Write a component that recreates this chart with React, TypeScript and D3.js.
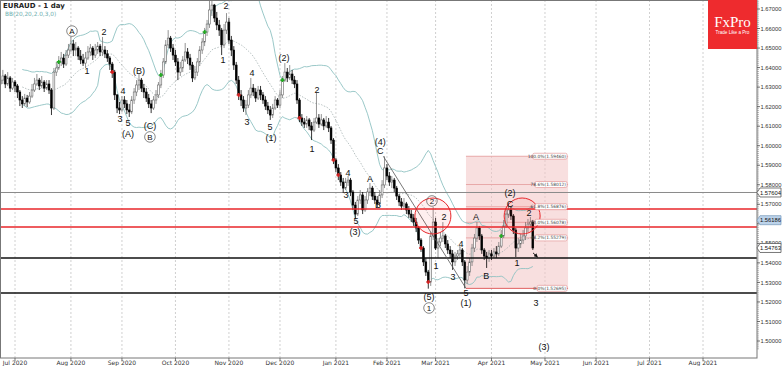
import React from "react";
import * as d3 from "d3";

// ---- DATA (EURAUD daily) ----
const firstDate = new Date(2020, 5, 23);
const axisEnd = new Date(2021, 7, 31);
const firstOpen = 1.6316;

const closes = [
  1.6336, 1.6357, 1.6316, 1.6347, 1.6295, 1.6326, 1.6306, 1.6275, 1.6234, 1.6214,
  1.6244, 1.6224, 1.6254, 1.6285, 1.6316, 1.6336, 1.6306, 1.6326, 1.6295, 1.6316,
  1.6285, 1.6193, 1.6377, 1.6398, 1.6429, 1.6449, 1.6418, 1.6464, 1.6490, 1.6521,
  1.6490, 1.6500, 1.6459, 1.6439, 1.6423, 1.6449, 1.6480, 1.6500, 1.6464, 1.6490,
  1.6510, 1.6480, 1.6490, 1.6470, 1.6449, 1.6418, 1.6377, 1.6260, 1.6193, 1.6183,
  1.6234, 1.6214, 1.6183, 1.6173, 1.6234, 1.6275, 1.6311, 1.6336, 1.6295, 1.6275,
  1.6244, 1.6214, 1.6193, 1.6234, 1.6260, 1.6311, 1.6362, 1.6429, 1.6516, 1.6551,
  1.6500, 1.6464, 1.6429, 1.6377, 1.6398, 1.6439, 1.6480, 1.6449, 1.6413, 1.6347,
  1.6377, 1.6429, 1.6490, 1.6531, 1.6582, 1.6623, 1.6695, 1.6720, 1.6654, 1.6618,
  1.6592, 1.6516, 1.6592, 1.6633, 1.6541, 1.6490, 1.6413, 1.6336, 1.6260, 1.6234,
  1.6193, 1.6208, 1.6260, 1.6295, 1.6275, 1.6244, 1.6285, 1.6260, 1.6234, 1.6203,
  1.6183, 1.6157, 1.6193, 1.6234, 1.6208, 1.6260, 1.6336, 1.6377, 1.6347, 1.6367,
  1.6336, 1.6316, 1.6234, 1.6142, 1.6121, 1.6111, 1.6132, 1.6101, 1.6080, 1.6121,
  1.6142, 1.6111, 1.6132, 1.6101, 1.6121, 1.6091, 1.6029, 1.5927, 1.5886, 1.5850,
  1.5814, 1.5783, 1.5814, 1.5824, 1.5763, 1.5696, 1.5650, 1.5722, 1.5748, 1.5671,
  1.5722, 1.5763, 1.5783, 1.5742, 1.5722, 1.5702, 1.5748, 1.5799, 1.5886, 1.5845,
  1.5814, 1.5824, 1.5783, 1.5742, 1.5712, 1.5691, 1.5702, 1.5671, 1.5650, 1.5630,
  1.5609, 1.5579, 1.5517, 1.5476, 1.5405, 1.5353, 1.5302, 1.5538, 1.5609, 1.5476,
  1.5507, 1.5527, 1.5538, 1.5497, 1.5466, 1.5446, 1.5405, 1.5435, 1.5446, 1.5466,
  1.5405, 1.5312, 1.5353, 1.5405, 1.5476, 1.5527, 1.5579, 1.5538, 1.5466, 1.5435,
  1.5425, 1.5446, 1.5435, 1.5456, 1.5446, 1.5486, 1.5538, 1.5589, 1.5650, 1.5671,
  1.5640, 1.5568, 1.5476, 1.5497, 1.5517, 1.5538, 1.5579, 1.5599, 1.5609, 1.54763,
];

const highs = [
  1.6377, 1.6388, 1.6367, 1.6377, 1.6357, 1.6347, 1.6336, 1.6316, 1.6285, 1.6254,
  1.6265, 1.6260, 1.6275, 1.6316, 1.6347, 1.6367, 1.6347, 1.6357, 1.6336, 1.6336,
  1.6336, 1.6295, 1.6398, 1.6429, 1.6459, 1.6480, 1.6470, 1.6490, 1.6521, 1.6557,
  1.6541, 1.6531, 1.6510, 1.6490, 1.6470, 1.6480, 1.6510, 1.6521, 1.6510, 1.6521,
  1.6531, 1.6521, 1.6557, 1.6510, 1.6490, 1.6459, 1.6429, 1.6388, 1.6265, 1.6224,
  1.6254, 1.6254, 1.6234, 1.6214, 1.6254, 1.6295, 1.6336, 1.6367, 1.6347, 1.6316,
  1.6295, 1.6265, 1.6234, 1.6254, 1.6285, 1.6326, 1.6388, 1.6449, 1.6541, 1.6592,
  1.6562, 1.6521, 1.6490, 1.6449, 1.6429, 1.6459, 1.6526, 1.6500, 1.6470, 1.6429,
  1.6408, 1.6449, 1.6510, 1.6551, 1.6603, 1.6644, 1.6772, 1.6787, 1.6726, 1.6685,
  1.6644, 1.6603, 1.6623, 1.6679, 1.6654, 1.6562, 1.6510, 1.6429, 1.6357, 1.6285,
  1.6254, 1.6234, 1.6285, 1.6347, 1.6316, 1.6295, 1.6306, 1.6306, 1.6275, 1.6254,
  1.6224, 1.6203, 1.6214, 1.6254, 1.6244, 1.6285, 1.6357, 1.6423, 1.6398, 1.6413,
  1.6388, 1.6357, 1.6336, 1.6244, 1.6162, 1.6142, 1.6152, 1.6142, 1.6121, 1.6142,
  1.6270, 1.6162, 1.6162, 1.6142, 1.6152, 1.6142, 1.6101, 1.6039, 1.5937, 1.5906,
  1.5865, 1.5835, 1.5835, 1.5845, 1.5835, 1.5773, 1.5712, 1.5742, 1.5773, 1.5763,
  1.5742, 1.5783, 1.5809, 1.5794, 1.5763, 1.5742, 1.5773, 1.5824, 1.5946, 1.5906,
  1.5865, 1.5845, 1.5835, 1.5794, 1.5753, 1.5732, 1.5732, 1.5712, 1.5691, 1.5671,
  1.5650, 1.5630, 1.5589, 1.5527, 1.5486, 1.5425, 1.5364, 1.5558, 1.5686, 1.5630,
  1.5527, 1.5558, 1.5609, 1.5548, 1.5517, 1.5486, 1.5466, 1.5456, 1.5466, 1.5486,
  1.5476, 1.5415, 1.5384, 1.5425, 1.5497, 1.5548, 1.5609, 1.5589, 1.5548, 1.5476,
  1.5456, 1.5466, 1.5466, 1.5476, 1.5486, 1.5507, 1.5568, 1.5620, 1.5681, 1.5707,
  1.5691, 1.5650, 1.5579, 1.5527, 1.5548, 1.5568, 1.5609, 1.5625, 1.5635, 1.5620,
];

const lows = [
  1.6306, 1.6316, 1.6295, 1.6306, 1.6275, 1.6285, 1.6275, 1.6244, 1.6203, 1.6193,
  1.6203, 1.6198, 1.6214, 1.6244, 1.6275, 1.6306, 1.6285, 1.6295, 1.6275, 1.6285,
  1.6265, 1.6157, 1.6183, 1.6357, 1.6388, 1.6408, 1.6398, 1.6408, 1.6449, 1.6480,
  1.6459, 1.6459, 1.6439, 1.6418, 1.6408, 1.6398, 1.6439, 1.6459, 1.6439, 1.6449,
  1.6470, 1.6459, 1.6459, 1.6449, 1.6429, 1.6388, 1.6347, 1.6234, 1.6167, 1.6162,
  1.6173, 1.6193, 1.6162, 1.6147, 1.6162, 1.6214, 1.6254, 1.6285, 1.6275, 1.6244,
  1.6224, 1.6193, 1.6167, 1.6183, 1.6214, 1.6244, 1.6295, 1.6347, 1.6418, 1.6500,
  1.6480, 1.6439, 1.6408, 1.6336, 1.6357, 1.6377, 1.6429, 1.6418, 1.6388, 1.6326,
  1.6336, 1.6357, 1.6408, 1.6470, 1.6510, 1.6562, 1.6603, 1.6664, 1.6633, 1.6592,
  1.6562, 1.6464, 1.6500, 1.6572, 1.6521, 1.6459, 1.6388, 1.6316, 1.6234, 1.6203,
  1.6173, 1.6157, 1.6193, 1.6244, 1.6254, 1.6224, 1.6234, 1.6234, 1.6214, 1.6183,
  1.6162, 1.6132, 1.6142, 1.6183, 1.6193, 1.6193, 1.6244, 1.6326, 1.6326, 1.6336,
  1.6316, 1.6295, 1.6214, 1.6121, 1.6101, 1.6091, 1.6091, 1.6080, 1.6029, 1.6070,
  1.6111, 1.6091, 1.6101, 1.6080, 1.6091, 1.6070, 1.6009, 1.5906, 1.5865, 1.5824,
  1.5794, 1.5758, 1.5773, 1.5794, 1.5742, 1.5671, 1.5625, 1.5640, 1.5702, 1.5650,
  1.5661, 1.5702, 1.5742, 1.5722, 1.5702, 1.5686, 1.5691, 1.5732, 1.5783, 1.5824,
  1.5794, 1.5783, 1.5763, 1.5722, 1.5691, 1.5671, 1.5671, 1.5650, 1.5630, 1.5609,
  1.5589, 1.5558, 1.5497, 1.5456, 1.5384, 1.5333, 1.5268, 1.5282, 1.5517, 1.5466,
  1.5425, 1.5486, 1.5507, 1.5476, 1.5446, 1.5425, 1.5364, 1.5384, 1.5415, 1.5425,
  1.5384, 1.52695, 1.5292, 1.5333, 1.5384, 1.5456, 1.5507, 1.5517, 1.5446, 1.5415,
  1.5374, 1.5405, 1.5415, 1.5425, 1.5425, 1.5435, 1.5476, 1.5527, 1.5579, 1.5630,
  1.5620, 1.5548, 1.5430, 1.5456, 1.5476, 1.5497, 1.5517, 1.5558, 1.5579, 1.5466,
];

// price ticks
const priceTicks = [1.5, 1.51, 1.52, 1.53, 1.54, 1.55, 1.56, 1.57, 1.58, 1.59, 1.6, 1.61, 1.62, 1.63, 1.64, 1.65, 1.66, 1.67];

// horizontal levels
const greyLevel = 1.57604;
const redLevels = [1.5676, 1.5584];
const blackLevels = [1.5425, 1.5246];
const askPrice = 1.56186;

// fractal markers (bar indices)
const greenMarks = [24, 66, 84, 116, 206];
const redMarks = [46, 98, 123, 137, 139, 173, 176];

// fibonacci box
const fibStart = 191.5;
const fibEnd = 233.5;
const fibHigh = 1.5946;
const fibLow = 1.52695;
const fibRatios = [1.0, 0.786, 0.618, 0.5, 0.382, 0.0];

// trendline [bar, price]
const trendFrom: [number, number] = [157.5, 1.5946];
const trendTo: [number, number] = [191.5, 1.52695];
const arrowFrom: [number, number] = [219.1, 1.5451];
const arrowTo: [number, number] = [220.9, 1.5430];

// red circles [bar, price]
const circles: [number, number][] = [[177.9, 1.564], [214.6, 1.564]];

// Elliott wave labels [text, bar, price, circled]
const waveLabels: [string, number, number, boolean][] = [
  ["A", 29.45, 1.6587, true], ["2", 42.6, 1.6582, false], ["1", 35.6, 1.6382, false],
  ["(B)", 57.0, 1.6382, false], ["4", 50.4, 1.628, false], ["3", 49.2, 1.6137, false],
  ["5", 52.5, 1.6116, false], ["(A)", 52.5, 1.606, false], ["(C)", 61.5, 1.6101, false],
  ["B", 61.5, 1.6045, true], ["2", 92.8, 1.6715, false], ["1", 91.6, 1.6439, false],
  ["4", 103.5, 1.6372, false], ["3", 101.4, 1.6121, false], ["5", 110.9, 1.6096, false],
  ["(1)", 111.3, 1.6039, false], ["(2)", 116.7, 1.6449, false], ["2", 130.2, 1.6285, false],
  ["1", 128.2, 1.5983, false], ["(4)", 156.2, 1.6019, false], ["C", 156.2, 1.5973, false],
  ["4", 143.0, 1.586, false], ["A", 152.0, 1.583, false], ["3", 142.2, 1.5748, false],
  ["B", 155.3, 1.5696, false], ["5", 146.3, 1.5614, false], ["(3)", 145.9, 1.5558, false],
  ["2", 177.5, 1.5717, true], ["2", 182.5, 1.5635, false], ["A", 195.6, 1.5635, false],
  ["4", 189.5, 1.5497, false], ["1", 179.2, 1.5384, false], ["3", 186.2, 1.5328, false],
  ["B", 199.8, 1.5333, false], ["(5)", 176.3, 1.5225, false], ["1", 176.3, 1.5169, true],
  ["5", 191.5, 1.5246, false], ["(1)", 191.5, 1.5195, false], ["(2)", 209.6, 1.5758, false],
  ["C", 209.6, 1.5702, false], ["1", 212.5, 1.54, false], ["2", 217.4, 1.5656, false],
  ["3", 220.3, 1.5195, false], ["(3)", 223.6, 1.4969, false],
];

// ---- helpers ----
const dates: Date[] = [];
for (let d = new Date(firstDate); d <= axisEnd; d = d3.timeDay.offset(d, 1)) {
  const wd = d.getDay();
  if (wd !== 0 && wd !== 6) dates.push(new Date(d));
}
const idxOf = (dt: Date) => dates.findIndex((d) => d >= dt);
const monthStarts: number[] = [];
dates.forEach((d, i) => {
  if (i > 0 && d.getMonth() !== dates[i - 1].getMonth()) monthStarts.push(i);
});
const fmtMonth = d3.timeFormat("%b %Y");

const W = 782, H = 366;
const plotR = 757, plotB = 358;
const xs = d3.scaleLinear()
  .domain([idxOf(new Date(2020, 6, 1)), idxOf(new Date(2021, 7, 2))])
  .range([15, 703]);
const ys = d3.scaleLinear().domain([1.5, 1.67]).range([341, 9]);

const opens = closes.map((c, i) => (i === 0 ? firstOpen : closes[i - 1]));
const lastClose = closes[closes.length - 1];
const tagPrices = [greyLevel, askPrice, lastClose];

// Bollinger bands 20, 2
const bb = closes.map((_, i) => {
  const w = closes.slice(Math.max(0, i - 19), i + 1);
  const m = d3.mean(w)!;
  const sd = Math.sqrt(d3.mean(w.map((v) => (v - m) * (v - m)))!);
  return { i, m, u: m + 2 * sd, l: m - 2 * sd, n: w.length };
}).filter((b) => b.n >= 10);

const line = (acc: (b: any) => number) =>
  d3.line<any>().x((b) => xs(b.i)).y((b) => ys(acc(b)))(bb) || "";

const font = "'Liberation Sans', Arial, sans-serif";
const axisFont = "'DejaVu Sans', Tahoma, sans-serif";

function Tag({ p, fill, stroke }: { p: number; fill: string; stroke: string }) {
  const y = ys(p);
  const pts = `${plotR},${y} ${plotR + 3},${y - 4.5} ${W - 1},${y - 4.5} ${W - 1},${y + 4.5} ${plotR + 3},${y + 4.5}`;
  return (
    <g>
      <polygon points={pts} fill={fill} stroke={stroke} strokeWidth={0.8} />
      <text x={plotR + 3} y={y + 2.1} fontSize={5.8} fontFamily={font} fill="#111">{p.toFixed(5)}</text>
    </g>
  );
}

export default function App() {
  const minorTicks = d3.range(1.496, 1.6745, 0.001);
  return (
    <svg width={W} height={H} style={{ position: "absolute", left: 0, top: 0, background: "#fff" }}>
      <defs>
        <clipPath id="plot"><rect x={0} y={0} width={plotR} height={plotB} /></clipPath>
        <marker id="ah" viewBox="0 0 6 6" refX={5} refY={3} markerWidth={4} markerHeight={4} orient="auto">
          <path d="M0,0 L6,3 L0,6 z" fill="#111" />
        </marker>
      </defs>
      <rect x={0} y={0} width={W} height={H} fill="#fff" />

      <g clipPath="url(#plot)">
        {monthStarts.map((m) => (
          <line key={m} x1={xs(m)} x2={xs(m)} y1={0} y2={plotB} stroke="#c4c4c4" strokeWidth={0.8} strokeDasharray="2,2" />
        ))}

        <rect x={xs(fibStart)} width={xs(fibEnd) - xs(fibStart)} y={ys(fibHigh)} height={ys(fibLow) - ys(fibHigh)} fill="#f2c4c4" fillOpacity={0.55} />
        {fibRatios.map((r) => {
          const p = fibLow + r * (fibHigh - fibLow);
          return (
            <line key={r} x1={xs(fibStart)} x2={xs(fibEnd)} y1={ys(p)} y2={ys(p)} stroke={r === 0 ? "#e06060" : "#e8a8a8"} strokeWidth={1} />
          );
        })}

        <path d={line((b) => b.u)} fill="none" stroke="#8fc2c2" strokeWidth={0.9} />
        <path d={line((b) => b.l)} fill="none" stroke="#8fc2c2" strokeWidth={0.9} />
        <path d={line((b) => b.m)} fill="none" stroke="#9aa8a8" strokeWidth={0.7} strokeDasharray="1.5,1.5" />

        <line x1={0} x2={plotR} y1={ys(greyLevel)} y2={ys(greyLevel)} stroke="#8a8a8a" strokeWidth={1} />

        {closes.map((c, i) => {
          const o = opens[i];
          const bull = c >= o;
          const x = xs(i);
          const top = ys(Math.max(o, c));
          const bot = ys(Math.min(o, c));
          return (
            <g key={i}>
              <line x1={x} x2={x} y1={ys(highs[i])} y2={ys(lows[i])} stroke={bull ? "#777" : "#000"} strokeWidth={0.8} />
              <rect x={x - 0.9} y={top} width={1.8} height={Math.max(0.8, bot - top)} fill={bull ? "#fff" : "#000"} stroke={bull ? "#666" : "#000"} strokeWidth={0.6} />
            </g>
          );
        })}

        {redLevels.map((p) => (
          <line key={p} x1={0} x2={plotR} y1={ys(p)} y2={ys(p)} stroke="#e8262a" strokeWidth={1.6} />
        ))}
        {blackLevels.map((p) => (
          <line key={p} x1={0} x2={plotR} y1={ys(p)} y2={ys(p)} stroke="#111" strokeWidth={1.6} />
        ))}

        {greenMarks.map((i) => (
          <path key={"g" + i} d={`M${xs(i) - 2},${ys(closes[i])} h4 M${xs(i)},${ys(closes[i]) - 2} v4`} stroke="#22aa22" strokeWidth={1.6} />
        ))}
        {redMarks.map((i) => (
          <path key={"r" + i} d={`M${xs(i) - 2},${ys(closes[i])} h4 M${xs(i)},${ys(closes[i]) - 2} v4`} stroke="#d42020" strokeWidth={1.6} />
        ))}

        <line x1={xs(trendFrom[0])} y1={ys(trendFrom[1])} x2={xs(trendTo[0])} y2={ys(trendTo[1])} stroke="#555" strokeWidth={0.8} />
        <line x1={xs(arrowFrom[0])} y1={ys(arrowFrom[1])} x2={xs(arrowTo[0])} y2={ys(arrowTo[1])} stroke="#111" strokeWidth={1} markerEnd="url(#ah)" />

        {circles.map(([i, p], k) => (
          <circle key={k} cx={xs(i)} cy={ys(p)} r={18} fill="#ff3030" fillOpacity={0.08} stroke="#e8262a" strokeWidth={1} />
        ))}

        {fibRatios.map((r) => {
          const p = fibLow + r * (fibHigh - fibLow);
          const txt = `${(r * 100).toFixed(1)}%(${p.toFixed(5)})`;
          const xr = xs(fibEnd) - 1;
          const w = txt.length * 2.15 + 2;
          return (
            <g key={"fl" + r}>
              <rect x={xr - w} y={ys(p) - 3} width={w} height={6} rx={1.5} fill="#fff" stroke="#e08a8a" strokeWidth={0.6} />
              <text x={xr - 1} y={ys(p) + 1.6} fontSize={4.4} fontFamily={axisFont} textAnchor="end" fill="#444">{txt}</text>
            </g>
          );
        })}

        {waveLabels.map(([t, i, p, circ], k) => (
          <g key={"w" + k}>
            {circ && <circle cx={xs(i)} cy={ys(p)} r={5.3} fill="none" stroke="#555" strokeWidth={0.7} />}
            <text x={xs(i)} y={ys(p) + 3.2} fontSize={circ ? 8 : 9} fontFamily={font} textAnchor="middle" fill="#111">{t}</text>
          </g>
        ))}
      </g>

      <rect x={0.5} y={0.5} width={plotR - 0.5} height={plotB - 0.5} fill="none" stroke="#777" strokeWidth={1} />

      {monthStarts.map((m) => (
        <g key={"mx" + m}>
          <line x1={xs(m)} x2={xs(m)} y1={plotB} y2={plotB + 3} stroke="#555" strokeWidth={0.8} />
          <text x={xs(m)} y={plotB + 6.6} fontSize={6} fontFamily={axisFont} textAnchor="middle" fill="#333">{fmtMonth(dates[m])}</text>
        </g>
      ))}

      {minorTicks.map((p, k) => (
        ys(p) > 1 && ys(p) < plotB ? <line key={"mt" + k} x1={plotR} x2={plotR + 2} y1={ys(p)} y2={ys(p)} stroke="#777" strokeWidth={0.5} /> : null
      ))}
      {priceTicks.map((p) => {
        const hidden = tagPrices.some((t) => Math.abs(ys(t) - ys(p)) < 4);
        return (
          <g key={"pt" + p}>
            <line x1={plotR} x2={plotR + 3} y1={ys(p)} y2={ys(p)} stroke="#555" strokeWidth={0.8} />
            {!hidden && (
              <text x={plotR + 3.5} y={ys(p) + 2.1} fontSize={5.8} fontFamily={font} fill="#333">{p.toFixed(5)}</text>
            )}
          </g>
        );
      })}
      <Tag p={greyLevel} fill="#fff" stroke="#555" />
      <Tag p={askPrice} fill="#bcd3ea" stroke="#7f9fbf" />
      <Tag p={lastClose} fill="#fff" stroke="#555" />

      <text x={3} y={7.5} fontSize={7} fontWeight="bold" fontFamily={axisFont} fill="#222">EURAUD - 1 day</text>
      <text x={5} y={15.5} fontSize={5.8} fontFamily={axisFont} fill="#6fb0b0">BB(20,20,2.0,3,0)</text>

      <rect x={708} y={0} width={49} height={49} fill="#ee2b2e" />
      <text x={732.5} y={27} fontSize={15} fontFamily="'Liberation Serif', 'DejaVu Serif', serif" textAnchor="middle" fill="#fff">FxPro</text>
      <text x={732.5} y={34} fontSize={4.6} fontFamily={font} textAnchor="middle" fill="#fff">Trade Like a Pro</text>
    </svg>
  );
}
